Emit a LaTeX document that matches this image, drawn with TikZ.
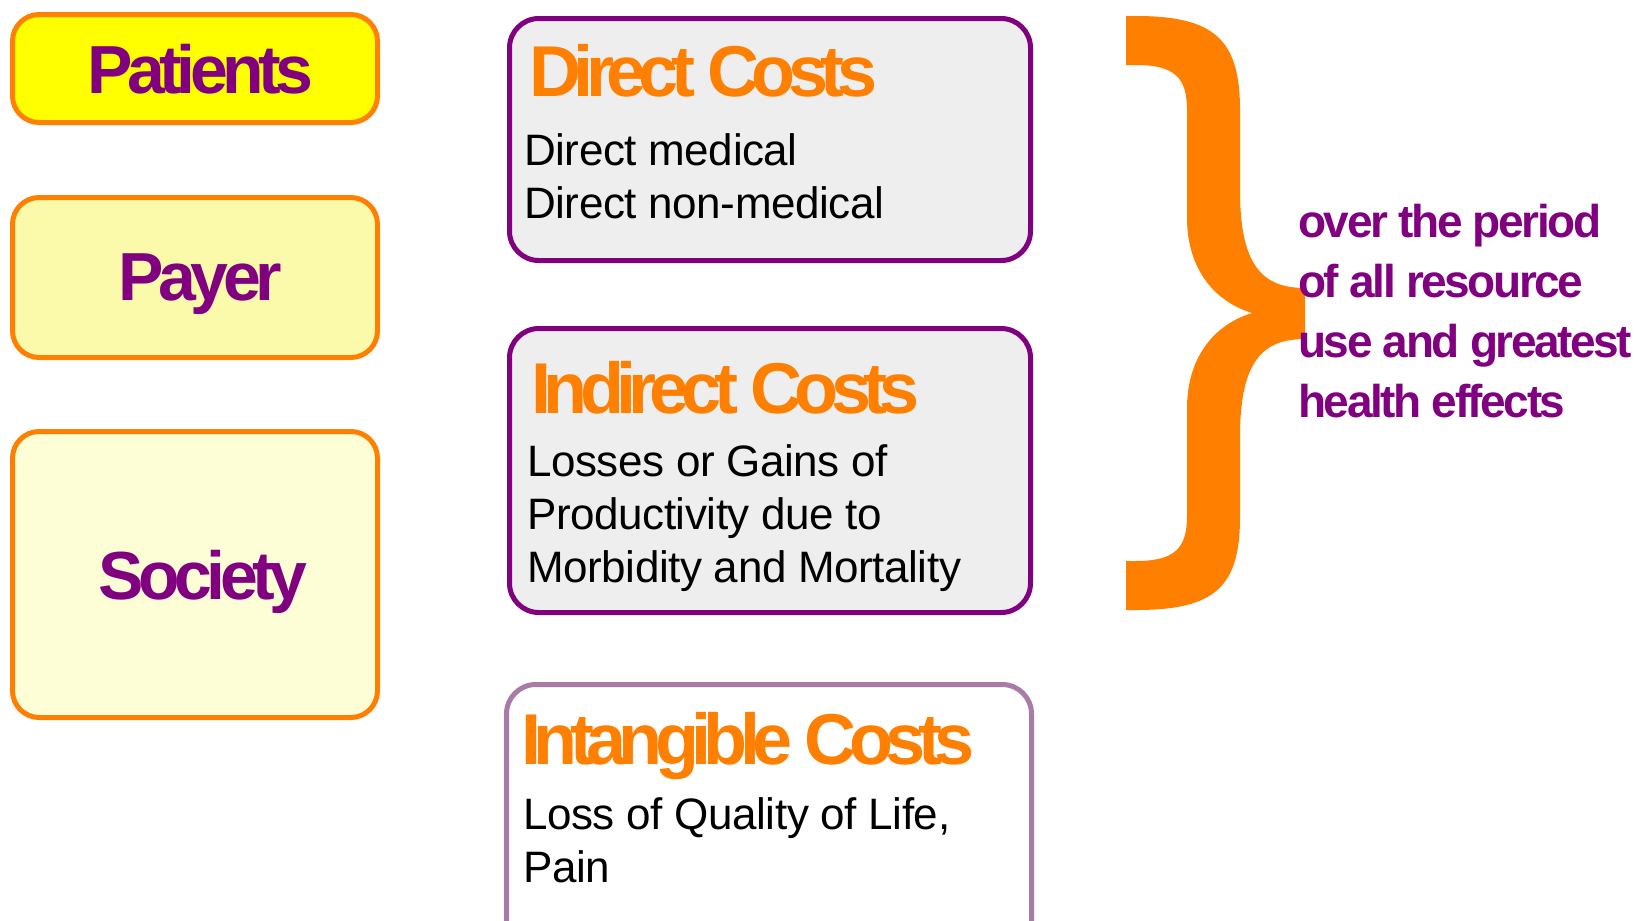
\documentclass[tikz,border=0pt]{standalone}
\usepackage{fontspec}
\setmainfont{Liberation Sans}
\newfontfamily\groupfont[LetterSpace=-8]{Liberation Sans}
\newfontfamily\costfont[LetterSpace=-10.6]{Liberation Sans}
\newfontfamily\sidefont[LetterSpace=-5.3]{Liberation Sans}
\newfontfamily\bodyfont[LetterSpace=-1]{Liberation Sans}
\usepackage{tikz}
\usetikzlibrary{positioning,calc}
\definecolor{brorange}{HTML}{FF8000}
\definecolor{costpurple}{HTML}{800080}
\definecolor{intpurple}{HTML}{A97BA7}
\definecolor{costgray}{HTML}{EEEEEE}
\definecolor{patfill}{HTML}{FFFF00}
\definecolor{payfill}{HTML}{FAFAAA}
\definecolor{socfill}{HTML}{FDFDD6}

\begin{document}
\begin{tikzpicture}[x=0.75pt,y=-0.75pt,
groupnode/.style={rectangle, rounded corners=20pt, draw=brorange, line width=3.75pt, minimum width=273.75pt},
grouptext/.style={inner sep=0pt, text depth=0pt, text=costpurple, font=\groupfont\bfseries\fontsize{51}{51}\selectfont},
costnode/.style={rectangle, rounded corners=22pt, draw=costpurple, line width=3.75pt, fill=costgray, minimum width=390.75pt},
costtitle/.style={anchor=base west, inner sep=0pt, text=brorange, font=\costfont\bfseries\fontsize{54}{54}\selectfont},
costbody/.style={anchor=base west, inner sep=0pt, align=left, font=\bodyfont\fontsize{33}{39.5}\selectfont},
sidetext/.style={anchor=base west, inner sep=0pt, align=left, text=costpurple, font=\sidefont\bfseries\fontsize{34.5}{45}\selectfont},
]
\useasboundingbox (0,0) rectangle (1635,921);

%Nodes
\node[groupnode, fill=patfill, minimum height=81pt]    (patients) at (195,68.5)  {};
\node[groupnode, fill=payfill, minimum height=120pt]   (payer)    at (195,277.5) {};
\node[groupnode, fill=socfill, minimum height=214.5pt] (society)  at (195,574.5) {};
\node[grouptext] (patientstext) at ([xshift=4pt]patients.center) {Patients};
\node[grouptext] (payertext)    at ([xshift=4pt]payer.center)    {Payer};
\node[grouptext] (societytext)  at ([xshift=6pt]society.center)  {Society};

\node[costnode, minimum height=181.5pt] (direct)   at (770,139.5) {};
\node[costnode, minimum height=213pt]   (indirect) at (770,470.5) {};
\node[costnode, draw=intpurple, fill=white, minimum width=393.75pt, minimum height=210pt] (intangible) at (769,824.5) {};

\node[costtitle] (directtitle)     at ($(direct.north west)+(22,80)$)     {Direct Costs};
\node[costbody]  (directbody)      at ($(direct.north west)+(17,202)$)    {Direct medical\\Direct non-medical};
\node[costtitle] (indirecttitle)   at ($(indirect.north west)+(24,87)$)   {Indirect Costs};
\node[costbody]  (indirectbody)    at ($(indirect.north west)+(20,256)$)  {Losses or Gains of\\Productivity due to\\Morbidity and Mortality};
\node[costtitle] (intangibletitle) at ($(intangible.north west)+(17,82)$) {Intangible Costs};
\node[costbody]  (intangiblebody)  at ($(intangible.north west)+(19,200)$) {Loss of Quality of Life,\\Pain};

%Brace
\fill[brorange] (1126,16) -- (1136,16) .. controls (1215,16) and (1240,40) .. (1240,110)
  -- (1240,190) .. controls (1240,265) and (1262,288) .. (1305,288)
  -- (1305,339) .. controls (1262,339) and (1240,362) .. (1240,437)
  -- (1240,517) .. controls (1240,587) and (1215,610) .. (1136,610)
  -- (1126,610) -- (1126,561) -- (1136,561) .. controls (1175,561) and (1187,548) .. (1187,516)
  -- (1187,408) .. controls (1187,362) and (1210,326) .. (1252,313)
  .. controls (1210,300) and (1187,264) .. (1187,218)
  -- (1187,110) .. controls (1187,78) and (1175,65) .. (1136,65)
  -- (1126,65) -- cycle;

\node[sidetext] (period) at (1298,417) {over the period\\of all resource\\use and greatest\\health effects};
\end{tikzpicture}
\end{document}
